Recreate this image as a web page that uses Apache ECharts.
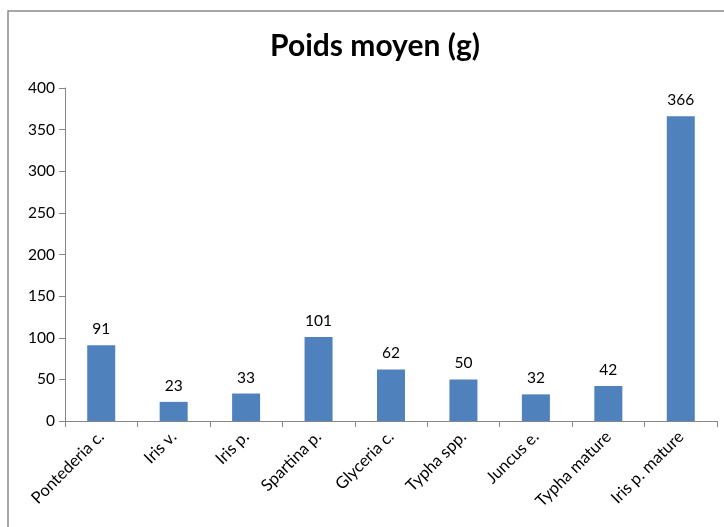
<!DOCTYPE html>
<html>
<head>
<meta charset="utf-8">
<script src="https://cdn.jsdelivr.net/npm/echarts@6/dist/echarts.min.js"></script>
<style>
  html, body { margin: 0; padding: 0; background: #fff; }
  #chart { width: 724px; height: 527px; }
</style>
</head>
<body>
<div id="chart"></div>
<script>
  // données
  var categories = ['Pontederia c.', 'Iris v.', 'Iris p.', 'Spartina p.', 'Glyceria c.', 'Typha spp.', 'Juncus e.', 'Typha mature', 'Iris p. mature'];
  var poids = [91, 23, 33, 101, 62, 50, 32, 42, 366];
  var yTicks = [0, 50, 100, 150, 200, 250, 300, 350, 400];

  var font = 'Lato, "Open Sans", sans-serif';
  var chart = echarts.init(document.getElementById('chart'));
  chart.setOption({
    animation: false,
    title: {
      text: 'Poids moyen (g)',
      left: 370,
      top: 26,
      textAlign: 'center',
      textStyle: { fontFamily: font, fontSize: 30, fontWeight: 'bold', color: '#000' }
    },
    graphic: [{
      type: 'rect',
      shape: { x: 8, y: 11, width: 760, height: 560 },
      style: { fill: 'none', stroke: '#8c8c8c', lineWidth: 1.5 },
      silent: true
    }],
    grid: { left: 65, right: 7, top: 88, bottom: 106, containLabel: false },
    xAxis: {
      type: 'category',
      data: categories,
      axisLine: { lineStyle: { color: '#868686' } },
      axisTick: { show: true, length: 6, lineStyle: { color: '#868686' } },
      axisLabel: { rotate: 45, fontFamily: font, fontSize: 16.5, color: '#000', margin: 13, interval: 0 }
    },
    yAxis: {
      type: 'value',
      min: yTicks[0],
      max: yTicks[yTicks.length - 1],
      interval: 50,
      axisLine: { show: true, lineStyle: { color: '#868686' } },
      axisTick: { show: true, length: 6, lineStyle: { color: '#868686' } },
      splitLine: { show: false },
      axisLabel: { fontFamily: font, fontSize: 15.5, color: '#000', margin: 10 }
    },
    series: [{
      type: 'bar',
      data: poids,
      barWidth: 28,
      itemStyle: { color: '#4f81bd' },
      label: { show: true, position: 'top', distance: 8, fontFamily: font, fontSize: 15.5, color: '#000' }
    }]
  });
</script>
</body>
</html>
